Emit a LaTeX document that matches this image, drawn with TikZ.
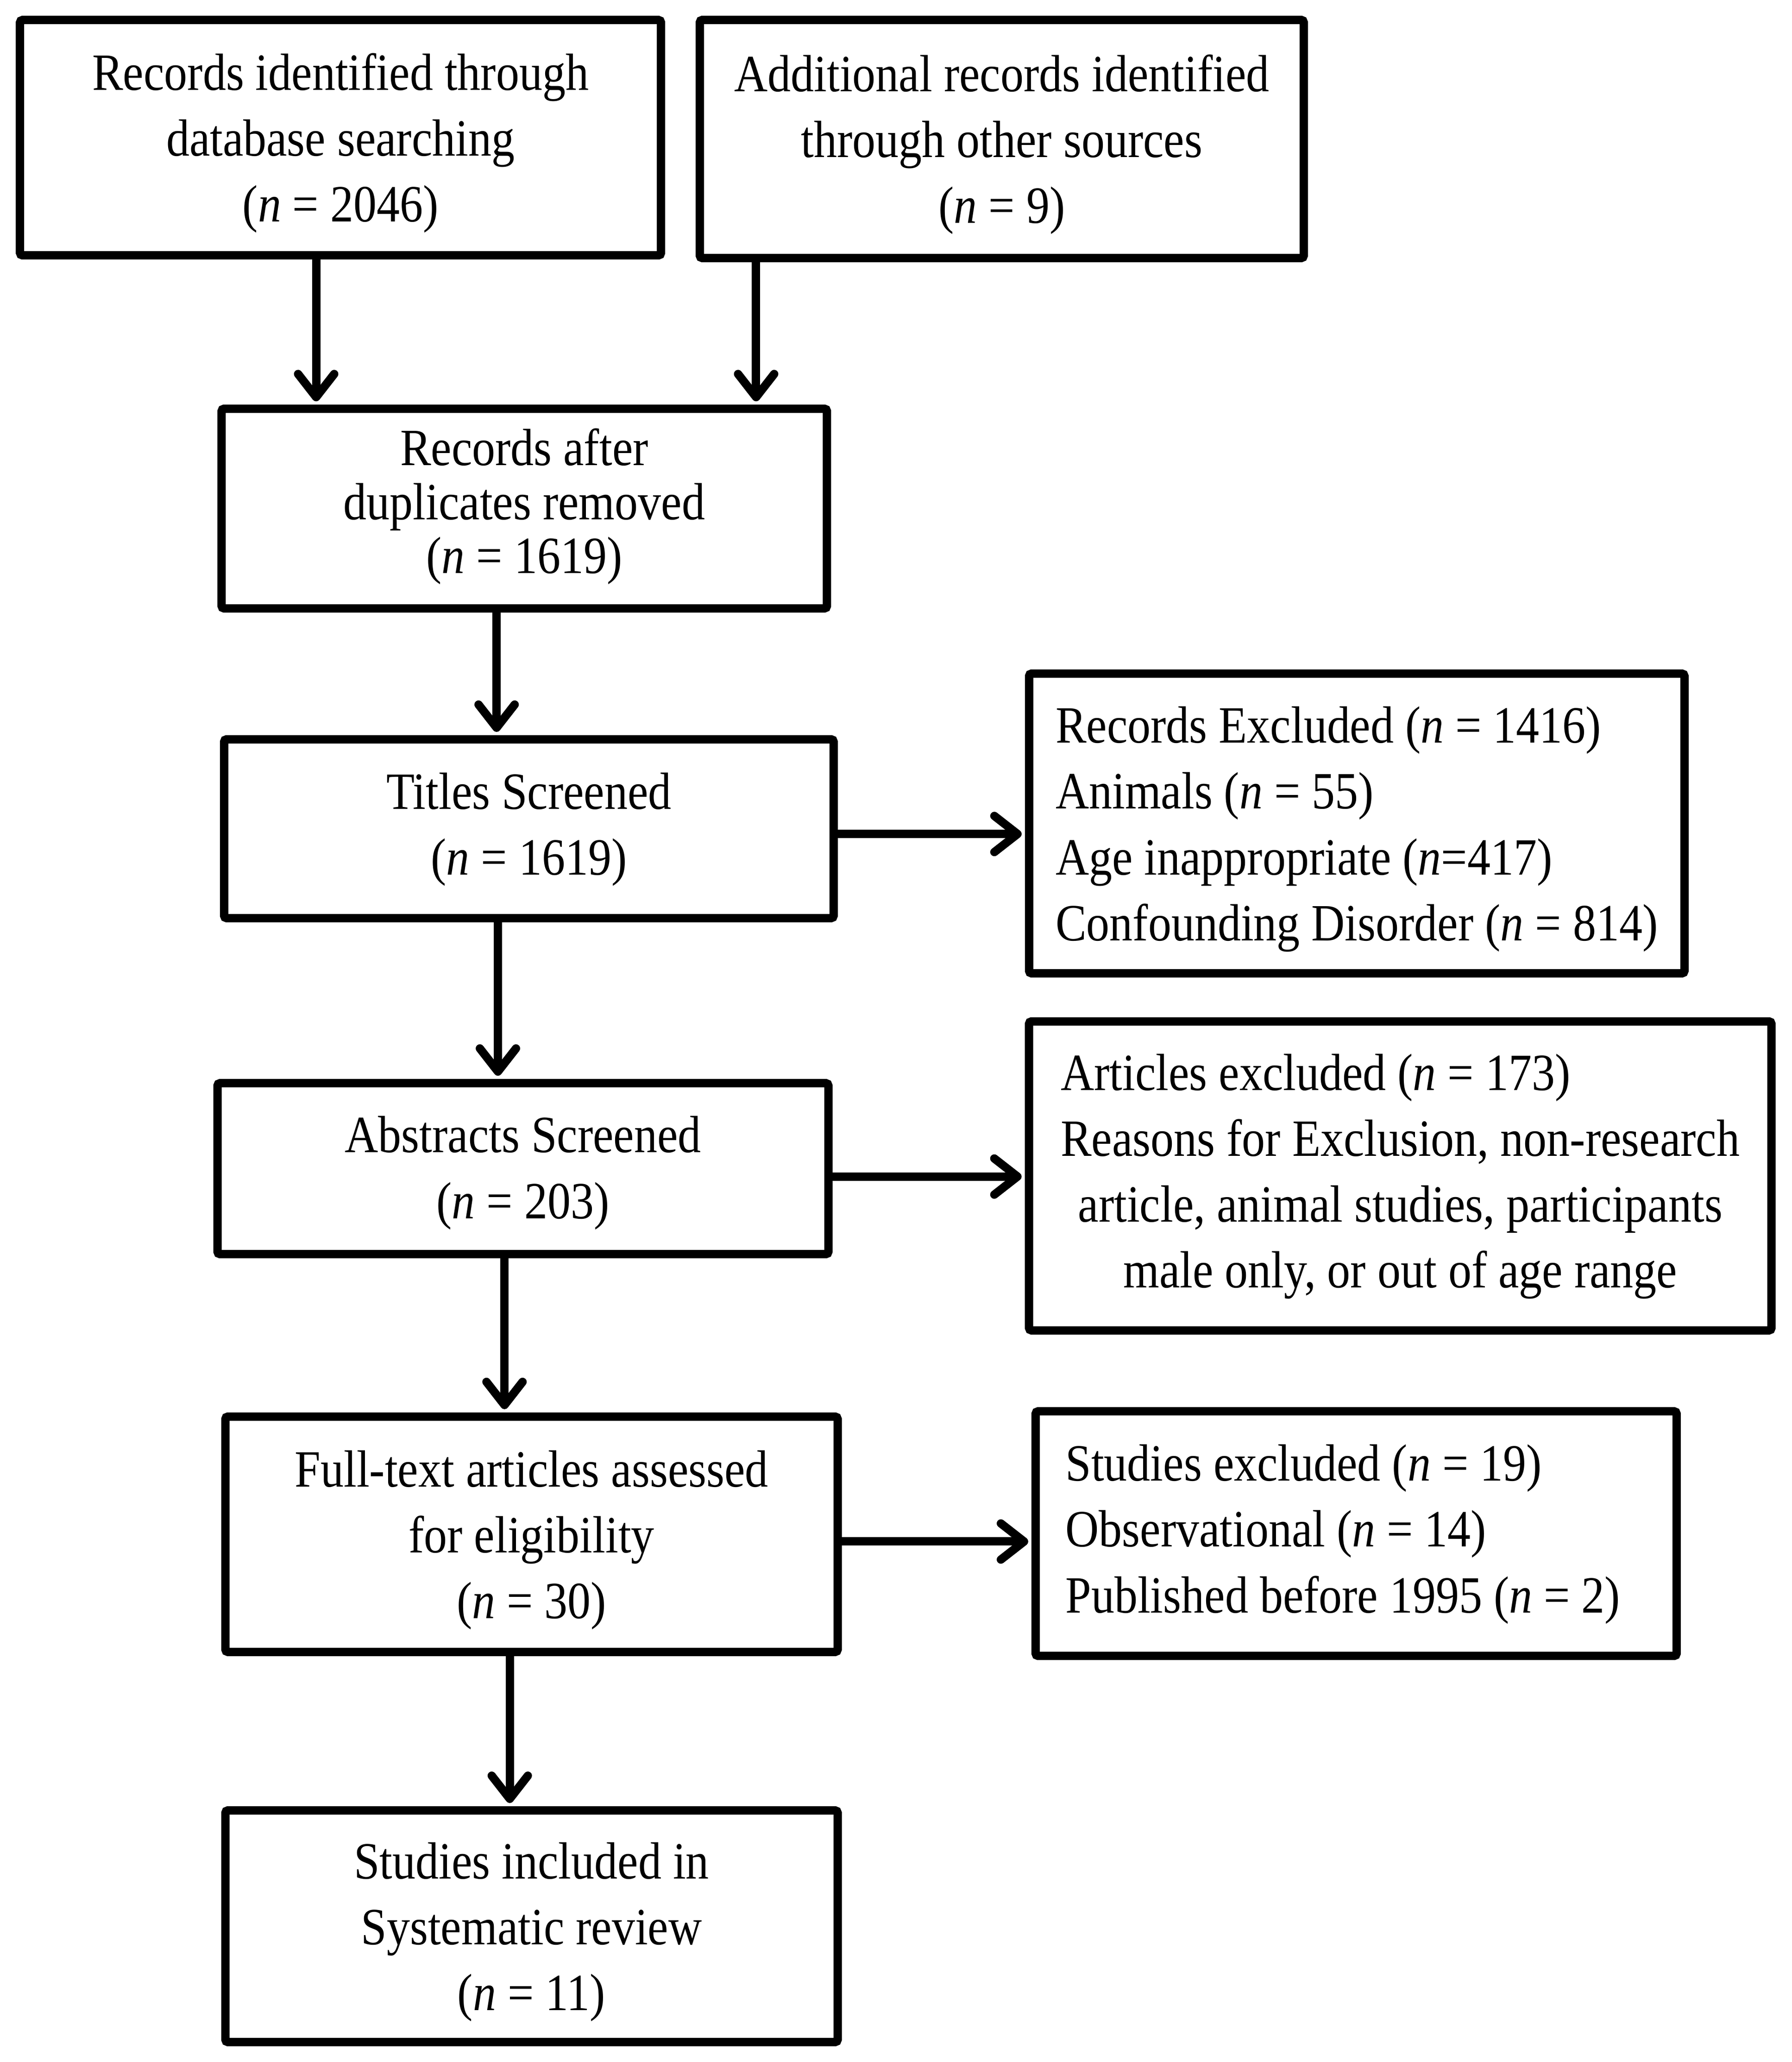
\documentclass[tikz,border=0pt]{standalone}
\usepackage{fontspec}
\setmainfont{Liberation Serif}
\usepackage{graphicx}
\usetikzlibrary{arrows.meta}
\newcommand\boxtxt[2][c]{\scalebox{1}[1.13]{\fontsize{28.45pt}{35.8pt}\selectfont\begin{tabular}{@{}#1@{}}#2\end{tabular}}}
\newcommand\lowtxt[2][c]{\raisebox{-0.11cm}[\height][\depth]{\boxtxt[#1]{#2}}}
\newcommand\nn{\textit{n}}
\begin{document}
\begin{tikzpicture}[x=0.02844cm, y=-0.02844cm,
  box/.style={draw=black, line width=0.18cm, rounded corners=1.5pt, rectangle, inner sep=0pt, outer sep=0pt, anchor=center, fill=white},
  arr/.style={line width=0.18cm, -{Straight Barb[length=0.5cm,width=0.78cm,round]}, shorten >=0.16cm}]
\fill[white] (0,0) rectangle (1360.06,1565.06);
\useasboundingbox (0,0) rectangle (1360.06,1565.06);

\node[box, minimum width=13.84cm, minimum height=5.08cm] (b1) at (258.5,104.5)
  {\lowtxt{Records identified through\\database searching\\(\nn{} = 2046)}};
\node[box, minimum width=13.04cm, minimum height=5.14cm] (b2) at (760.5,105.5)
  {\lowtxt{Additional records identified\\through other sources\\(\nn{} = 9)}};
\node[box, minimum width=13.07cm, minimum height=4.31cm] (b3) at (398,386)
  {\scalebox{1}[1.13]{\fontsize{28.45pt}{29.4pt}\selectfont\begin{tabular}{@{}c@{}}Records after\\duplicates removed\\(\nn{} = 1619)\end{tabular}}};
\node[box, minimum width=13.16cm, minimum height=3.86cm] (b4) at (401.5,629)
  {\boxtxt{Titles Screened\\(\nn{} = 1619)}};
\node[box, minimum width=14.15cm, minimum height=6.47cm] (b5) at (1030,625)
  {\lowtxt[l]{Records Excluded (\nn{} = 1416)\\Animals (\nn{} = 55)\\Age inappropriate (\nn{}=417)\\Confounding Disorder (\nn{} = 814)}};
\node[box, minimum width=13.19cm, minimum height=3.69cm] (b6) at (397,887)
  {\raisebox{-0.08cm}[\height][\depth]{\boxtxt{Abstracts Screened\\(\nn{} = 203)}}};
\node[box, minimum width=16.03cm, minimum height=6.67cm] (b7) at (1063,892.5)
  {\boxtxt{\multicolumn{1}{@{}l@{}}{Articles excluded (\nn{} = 173)}\\Reasons for Exclusion, non-research\\article, animal studies, participants\\male only, or out of age range}};
\node[box, minimum width=13.22cm, minimum height=5.08cm] (b8) at (403.5,1164.5)
  {\lowtxt{Full-text articles assessed\\for eligibility\\(\nn{} = 30)}};
\node[box, minimum width=13.84cm, minimum height=5.28cm] (b9) at (1029.5,1164)
  {\boxtxt[l]{Studies excluded (\nn{} = 19)\\Observational (\nn{} = 14)\\Published before 1995 (\nn{} = 2)}\kern0.57cm};
\node[box, minimum width=13.22cm, minimum height=5.00cm] (b10) at (403.5,1462)
  {\lowtxt{Studies included in\\Systematic review\\(\nn{} = 11)}};

\coordinate (xa) at (240,0);
\coordinate (xb) at (574,0);
\coordinate (xc) at (377,0);
\coordinate (xd) at (378,0);
\coordinate (xe) at (383,0);
\coordinate (xf) at (387,0);
\coordinate (ya) at (0,633);
\coordinate (yb) at (0,893);
\coordinate (yc) at (0,1170);

\draw[arr] (b1.south -| xa) -- (b3.north -| xa);
\draw[arr] (b2.south -| xb) -- (b3.north -| xb);
\draw[arr] (b3.south -| xc) -- (b4.north -| xc);
\draw[arr] (b4.south -| xd) -- (b6.north -| xd);
\draw[arr] (b6.south -| xe) -- (b8.north -| xe);
\draw[arr] (b8.south -| xf) -- (b10.north -| xf);
\draw[arr] (b4.east |- ya) -- (b5.west |- ya);
\draw[arr] (b6.east |- yb) -- (b7.west |- yb);
\draw[arr] (b8.east |- yc) -- (b9.west |- yc);
\end{tikzpicture}
\end{document}
